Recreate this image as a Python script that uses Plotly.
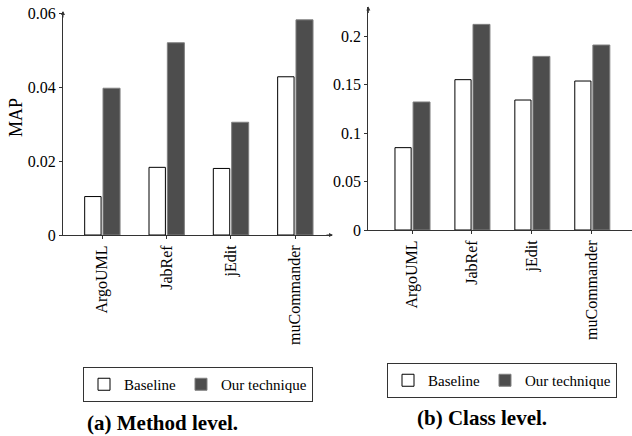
import plotly.graph_objects as go

projects = ["ArgoUML", "JabRef", "jEdit", "muCommander"]
method_baseline = [0.0104, 0.0183, 0.0180, 0.0428]
method_ours = [0.0397, 0.0520, 0.0305, 0.0582]
class_baseline = [0.0849, 0.155, 0.134, 0.1536]
class_ours = [0.132, 0.212, 0.179, 0.1907]
method_ticks = [0, 0.02, 0.04, 0.06]
class_ticks = [0, 0.05, 0.1, 0.15, 0.2]

W, H = 632, 436
FONT = "Liberation Serif, Times New Roman, serif"
DARK = "#4d4d4d"

def px(x):
    return x / W

def py(y):
    return 1 - y / H

fig = go.Figure()

# left subplot (method level)
fig.add_trace(go.Bar(x=projects, y=method_baseline, name="Baseline",
                     marker=dict(color="white", line=dict(color="black", width=1)),
                     offset=-0.27, width=0.255, xaxis="x", yaxis="y", legend="legend"))
fig.add_trace(go.Bar(x=projects, y=method_ours, name="Our technique",
                     marker=dict(color=DARK, line=dict(color="#808080", width=1)),
                     offset=0.015, width=0.265, xaxis="x", yaxis="y", legend="legend"))
# right subplot (class level)
fig.add_trace(go.Bar(x=projects, y=class_baseline, name="Baseline",
                     marker=dict(color="white", line=dict(color="black", width=1)),
                     offset=-0.285, width=0.27, xaxis="x2", yaxis="y2", legend="legend2"))
fig.add_trace(go.Bar(x=projects, y=class_ours, name="Our technique",
                     marker=dict(color=DARK, line=dict(color="#808080", width=1)),
                     offset=0.017, width=0.283, xaxis="x2", yaxis="y2", legend="legend2"))

axis_common = dict(showline=True, linecolor="#333333", linewidth=1, showgrid=False,
                   zeroline=False, ticks="outside", ticklen=3, tickcolor="#333333",
                   automargin=False,
                   tickfont=dict(family=FONT, size=16, color="black"))

legend_common = dict(orientation="h", bordercolor="#333333", borderwidth=1,
                     bgcolor="white", font=dict(family=FONT, size=15, color="black"),
                     itemwidth=30, tracegroupgap=0)

fig.update_layout(
    width=W, height=H, margin=dict(l=0, r=0, t=0, b=0, autoexpand=False),
    paper_bgcolor="white", plot_bgcolor="white",
    font=dict(family=FONT, size=16, color="black"),
    barmode="overlay",
    xaxis=dict(domain=[px(63), px(332)], range=[-0.607, 3.575], anchor="y",
               tickangle=-90, type="category", **axis_common),
    yaxis=dict(domain=[py(235), py(11.7)], range=[0, 0.0604], anchor="x",
               tickvals=method_ticks, ticktext=[f"{v:g}" for v in method_ticks], **axis_common),
    xaxis2=dict(domain=[px(368.3), 1.0], range=[-0.73, 3.67], anchor="y2",
                tickangle=-90, type="category", **axis_common),
    yaxis2=dict(domain=[py(230), py(7.3)], range=[0, 0.2296], anchor="x2",
                tickvals=class_ticks, ticktext=[f"{v:g}" for v in class_ticks], **axis_common),
    legend=dict(x=px(198), xanchor="center", y=py(367), yanchor="top", **legend_common),
    legend2=dict(x=px(502), xanchor="center", y=py(363), yanchor="top", **legend_common),
    annotations=[
        dict(text="MAP", x=px(16), y=py(118), xref="paper", yref="paper", showarrow=False,
             xanchor="center", yanchor="middle",
             textangle=-90, font=dict(family=FONT, size=18, color="black")),
        dict(text="<b>(a) Method level.</b>", x=px(162), y=py(423), xref="paper", yref="paper",
             xanchor="center", yanchor="middle",
             showarrow=False, font=dict(family=FONT, size=21, color="black")),
        dict(text="<b>(b) Class level.</b>", x=px(482), y=py(418), xref="paper", yref="paper",
             xanchor="center", yanchor="middle",
             showarrow=False, font=dict(family=FONT, size=21, color="black")),
        # axis arrows
        dict(x=px(333), y=py(235), ax=-8, ay=0, xref="paper", yref="paper", text="",
             showarrow=True, arrowhead=2, arrowsize=0.8, arrowwidth=1, arrowcolor="#333333"),
        dict(x=px(63), y=py(11), ax=0, ay=8, xref="paper", yref="paper", text="",
             showarrow=True, arrowhead=2, arrowsize=0.8, arrowwidth=1, arrowcolor="#333333"),
        dict(x=px(368.3), y=py(6.5), ax=0, ay=8, xref="paper", yref="paper", text="",
             showarrow=True, arrowhead=2, arrowsize=0.8, arrowwidth=1, arrowcolor="#333333"),
    ],
)

fig.write_html("out.html", config={"displayModeBar": False},
               post_script="document.body.style.margin='0';document.body.style.overflow='hidden';")
